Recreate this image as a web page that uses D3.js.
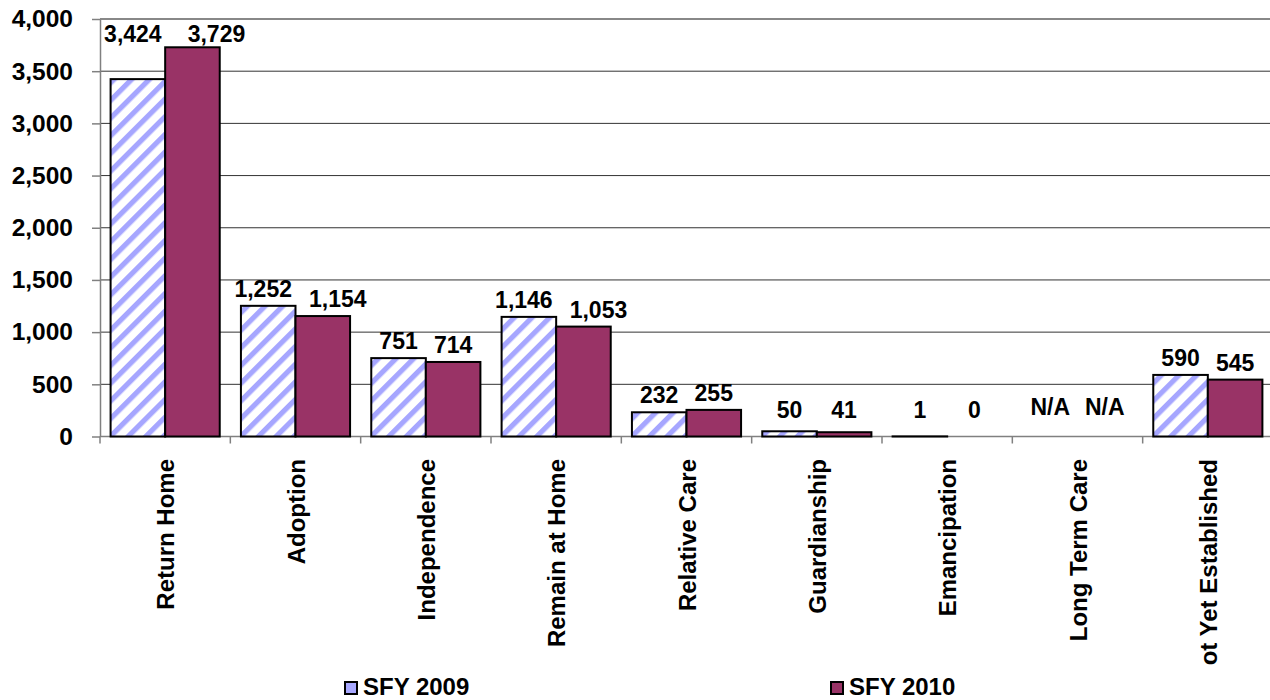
<!DOCTYPE html>
<html>
<head>
<meta charset="utf-8">
<script src="https://cdn.jsdelivr.net/npm/d3@7"></script>
<style>
  body { margin: 0; background: #fff; }
  svg { font-family: "Liberation Sans", Arial, sans-serif; font-weight: bold; }
</style>
</head>
<body>
<div id="chart"></div>
<script>
// Chart data
var categories = ["Return Home", "Adoption", "Independence", "Remain at Home", "Relative Care",
  "Guardianship", "Emancipation", "Long Term Care", "Not Yet Established"];
var seriesNames = ["SFY 2009", "SFY 2010"];
var sfy2009 = [3424, 1252, 751, 1146, 232, 50, 1, null, 590];
var sfy2010 = [3729, 1154, 714, 1053, 255, 41, 0, null, 545];
var yTicks = [0, 500, 1000, 1500, 2000, 2500, 3000, 3500, 4000];

var svgWidth = 1270;
var svgHeight = 700;

var margin = { top: 19, right: -3, bottom: 263.5, left: 100 };
var width = svgWidth - margin.left - margin.right;
var height = svgHeight - margin.top - margin.bottom;

var svg = d3.select("#chart")
  .append("svg")
  .attr("width", svgWidth)
  .attr("height", svgHeight);

// stripes for the 2009 bars
var defs = svg.append("defs");
var pat = defs.append("pattern")
  .attr("id", "stripes")
  .attr("patternUnits", "userSpaceOnUse")
  .attr("width", 12.5)
  .attr("height", 12.5)
  .attr("patternTransform", "rotate(45)");
pat.append("rect").attr("width", 12.5).attr("height", 12.5).attr("fill", "#fff");
pat.append("rect").attr("width", 5.2).attr("height", 12.5).attr("fill", "#a6a6ff");

defs.append("clipPath").attr("id", "clipChart")
  .append("rect").attr("x", 0).attr("y", 0).attr("width", svgWidth).attr("height", 665);

var chartGroup = svg.append("g")
  .attr("transform", `translate(${margin.left}, ${margin.top})`);

var xScale = d3.scaleBand()
  .domain(categories)
  .range([0, width]);

var xInner = d3.scaleBand()
  .domain(seriesNames)
  .range([10.6, xScale.bandwidth() - 10.6]);

var yScale = d3.scaleLinear()
  .domain([0, 4000])
  .range([height, 0]);

var colors = { "SFY 2009": "url(#stripes)", "SFY 2010": "#993366" };

// Gridlines
chartGroup.append("g")
  .selectAll("line")
  .data(yTicks.slice(1))
  .enter()
  .append("line")
  .attr("x1", 0)
  .attr("x2", width)
  .attr("y1", d => yScale(d))
  .attr("y2", d => yScale(d))
  .attr("stroke", d => d === 4000 ? "#888" : "#333")
  .attr("stroke-width", d => d === 4000 ? 2 : 1);

// Left axis
var leftAxis = d3.axisLeft(yScale)
  .tickValues(yTicks)
  .tickFormat(d3.format(","))
  .tickSize(8)
  .tickSizeOuter(0)
  .tickPadding(19);

var yAxisG = chartGroup.append("g").call(leftAxis);
yAxisG.select(".domain").attr("stroke", "#808080").attr("stroke-width", 1.5);
yAxisG.selectAll(".tick line").attr("stroke", "#808080").attr("stroke-width", 1.5);
yAxisG.selectAll(".tick text")
  .attr("fill", "#000")
  .style("font-size", "24.5px")
  .style("font-family", "'Liberation Sans', Arial, sans-serif")
  .style("font-weight", "bold");

// Bottom axis line and category ticks
chartGroup.append("line")
  .attr("x1", 0).attr("x2", width)
  .attr("y1", height).attr("y2", height)
  .attr("stroke", "#808080").attr("stroke-width", 1.5);

chartGroup.append("g")
  .selectAll("line")
  .data(categories)
  .enter()
  .append("line")
  .attr("x1", d => xScale(d))
  .attr("x2", d => xScale(d))
  .attr("y1", height)
  .attr("y2", height + 7)
  .attr("stroke", "#808080").attr("stroke-width", 1.5);

// Bars
var rows = categories.map(function(c, i) {
  return { cat: c, values: [
    { name: "SFY 2009", value: sfy2009[i] },
    { name: "SFY 2010", value: sfy2010[i] }
  ] };
});

var groups = chartGroup.selectAll(".cat")
  .data(rows)
  .enter()
  .append("g")
  .attr("class", "cat")
  .attr("transform", d => `translate(${xScale(d.cat)}, 0)`);

groups.selectAll("rect")
  .data(d => d.values.filter(v => v.value !== null))
  .enter()
  .append("rect")
  .attr("x", d => xInner(d.name))
  .attr("width", xInner.bandwidth())
  .attr("y", d => yScale(d.value))
  .attr("height", d => height - yScale(d.value))
  .attr("fill", d => colors[d.name])
  .attr("stroke", "#000")
  .attr("stroke-width", 2);

// Value labels
groups.each(function(row) {
  var g = d3.select(this);
  var groupMax = d3.max(row.values, v => v.value) || 0;
  var labels = row.values.map(function(v, j) {
    var cx = xInner(v.name) + xInner.bandwidth() / 2;
    var by;
    if (v.value === null) by = height - 22;
    else if (groupMax > 3000) by = yScale(groupMax) - 5;
    else by = Math.min(yScale(v.value) - 9, height - 19);
    var t = g.append("text")
      .attr("x", cx)
      .attr("y", by)
      .attr("text-anchor", "middle")
      .style("font-size", "23px")
      .text(v.value === null ? "N/A" : d3.format(",")(v.value));
    return { t: t, cx: cx, by: by, w: t.node().getComputedTextLength() };
  });
  // nudge apart labels that would collide
  var a = labels[0], b = labels[1];
  if (Math.abs(a.by - b.by) < 16 && (a.cx + a.w / 2) > (b.cx - b.w / 2) - 2) {
    a.t.attr("x", a.cx - 5);
    b.t.attr("x", b.cx + (groupMax > 3000 ? 24 : 15));
  }
});

// Category labels
svg.append("g")
  .attr("clip-path", "url(#clipChart)")
  .selectAll("text")
  .data(categories)
  .enter()
  .append("text")
  .attr("transform", d => `translate(${margin.left + xScale(d) + xScale.bandwidth() / 2 + 9}, 459) rotate(-90)`)
  .attr("text-anchor", "end")
  .style("font-size", "24px")
  .text(d => d);

// Legend
var legendX = [345, 831];
var legend = svg.append("g")
  .selectAll("g")
  .data(seriesNames)
  .enter()
  .append("g")
  .attr("transform", (d, i) => `translate(${legendX[i]}, 682)`);

legend.append("rect")
  .attr("width", 12)
  .attr("height", 12)
  .attr("fill", (d, i) => i === 0 ? "#a8a8ff" : "#993366")
  .attr("stroke", "#000")
  .attr("stroke-width", 2);

legend.append("text")
  .attr("x", 18)
  .attr("y", 13)
  .style("font-size", "24px")
  .text(d => d);
</script>
</body>
</html>
